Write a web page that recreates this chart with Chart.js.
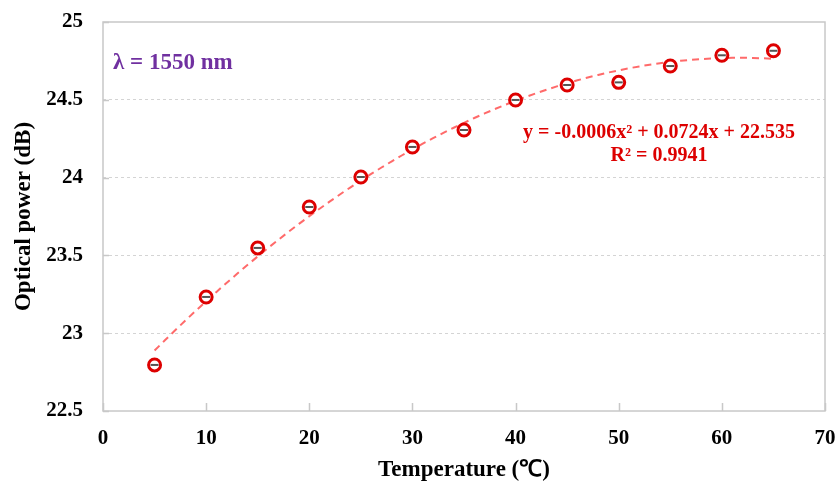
<!DOCTYPE html>
<html><head><meta charset="utf-8">
<script src="https://cdn.jsdelivr.net/npm/chart.js@4.4.0/dist/chart.umd.min.js"></script>
<style>html,body{margin:0;padding:0;background:#fff}#wrap{width:837px;height:482px}</style>
</head><body><div id="wrap"><canvas id="c" width="837" height="482"></canvas></div>
<script>
const temperatures = [5, 10, 15, 20, 25, 30, 35, 40, 45, 50, 55, 60, 65];
const opticalPower = [22.796, 23.233, 23.548, 23.811, 24.004, 24.197, 24.306, 24.499, 24.595, 24.612, 24.717, 24.786, 24.815];
const xTicks = [0, 10, 20, 30, 40, 50, 60, 70];
const yTicks = [22.5, 23, 23.5, 24, 24.5, 25];
const wavelengthLabel = 'λ = 1550 nm';
const equationLines = ['y = -0.0006x² + 0.0724x + 22.535', 'R² = 0.9941'];

// least-squares quadratic fit of the measured data (trendline)
function quadFit(xs, ys){
  let S=[0,0,0,0,0], T=[0,0,0];
  for(let i=0;i<xs.length;i++){const x=xs[i],y=ys[i];for(let k=0;k<5;k++)S[k]+=Math.pow(x,k);for(let k=0;k<3;k++)T[k]+=y*Math.pow(x,k);}
  const A=[[S[0],S[1],S[2],T[0]],[S[1],S[2],S[3],T[1]],[S[2],S[3],S[4],T[2]]];
  for(let i=0;i<3;i++){for(let j=i+1;j<3;j++){const f=A[j][i]/A[i][i];for(let k=i;k<4;k++)A[j][k]-=f*A[i][k];}}
  const c=[0,0,0];
  for(let i=2;i>=0;i--){let s=A[i][3];for(let k=i+1;k<3;k++)s-=A[i][k]*c[k];c[i]=s/A[i][i];}
  return c;
}
const coef = quadFit(temperatures, opticalPower);
const trend = [];
for(let x=temperatures[0]; x<=temperatures[temperatures.length-1]; x+=1){
  trend.push({x:x, y:coef[0]+coef[1]*x+coef[2]*x*x});
}

const FONT = '"Liberation Serif", "Times New Roman", serif';

const decor = {
  id:'decor',
  beforeDatasetsDraw(chart){
    const {ctx, chartArea:a, scales:{x,y}} = chart;
    ctx.save();
    ctx.strokeStyle='#c8c8c8'; ctx.lineWidth=1.5; ctx.setLineDash([]);
    ctx.strokeRect(a.left, a.top, a.right-a.left, a.bottom-a.top);
    ctx.beginPath();
    xTicks.forEach(v=>{const px=Math.round(x.getPixelForValue(v))+0.5; ctx.moveTo(px,a.bottom); ctx.lineTo(px,a.bottom-8);});
    yTicks.forEach(v=>{const py=Math.round(y.getPixelForValue(v))+0.5; ctx.moveTo(a.left,py); ctx.lineTo(a.left+6,py);});
    ctx.stroke();
    ctx.restore();
  },
  afterDraw(chart){
    const {ctx} = chart;
    ctx.save();
    ctx.font = 'bold 23px '+FONT;
    ctx.fillStyle = '#7030A0';
    ctx.textAlign='left'; ctx.textBaseline='middle';
    ctx.fillText(wavelengthLabel, 113, 63);
    ctx.font = 'bold 20px '+FONT;
    ctx.fillStyle = '#DD0000';
    ctx.textAlign='center';
    ctx.fillText(equationLines[0], 659, 133);
    ctx.fillText(equationLines[1], 659, 156);
    ctx.restore();
  }
};

new Chart(document.getElementById('c'), {
  type:'scatter',
  data:{datasets:[
    {label:'trend', data:trend, showLine:true, borderColor:'rgba(255,90,90,0.9)', borderWidth:2, borderDash:[7,5], pointRadius:0, fill:false, order:3},
    {label:'data', data:temperatures.map((t,i)=>({x:t,y:opticalPower[i]})), pointStyle:'circle', pointRadius:6, pointBorderWidth:3, pointBorderColor:'#DD0000', pointBackgroundColor:'#ffffff', showLine:false, order:2},
    {label:'err', data:temperatures.map((t,i)=>({x:t,y:opticalPower[i]})), pointStyle:'line', pointRadius:4, pointBorderWidth:2, pointBorderColor:'#555555', showLine:false, order:1}
  ]},
  options:{
    responsive:false, animation:false, devicePixelRatio:1,
    layout:{padding:{left:0,right:12,top:22,bottom:0}},
    plugins:{legend:{display:false}, tooltip:{enabled:false}},
    scales:{
      x:{type:'linear', min:0, max:70,
        afterBuildTicks(s){s.ticks = xTicks.map(v=>({value:v}));},
        afterFit(s){s.height=71; s.paddingLeft=0; s.paddingRight=0;},
        grid:{display:false, drawTicks:false},
        border:{display:false},
        ticks:{padding:15, color:'#000', font:{family:FONT, size:21, weight:'bold'}},
        title:{display:true, text:'Temperature (℃)', color:'#000', padding:{top:0,bottom:-2}, font:{family:FONT, size:23, weight:'bold'}}
      },
      y:{type:'linear', min:22.5, max:25,
        afterBuildTicks(s){s.ticks = yTicks.map(v=>({value:v}));},
        afterFit(s){s.width=103; s.paddingTop=0; s.paddingBottom=0;},
        grid:{drawTicks:false, lineWidth:1, color:(c)=> (c.tick && (c.tick.value===22.5||c.tick.value===25)) ? 'rgba(0,0,0,0)' : '#d4d4d4'},
        border:{display:false, dash:[3,3]},
        ticks:{padding:20, color:'#000', font:{family:FONT, size:21, weight:'bold'}, callback:(v)=>String(v)},
        title:{display:true, text:'Optical power (dB)', color:'#000', padding:{top:10,bottom:0}, font:{family:FONT, size:23, weight:'bold'}}
      }
    }
  },
  plugins:[decor]
});
</script></body></html>
